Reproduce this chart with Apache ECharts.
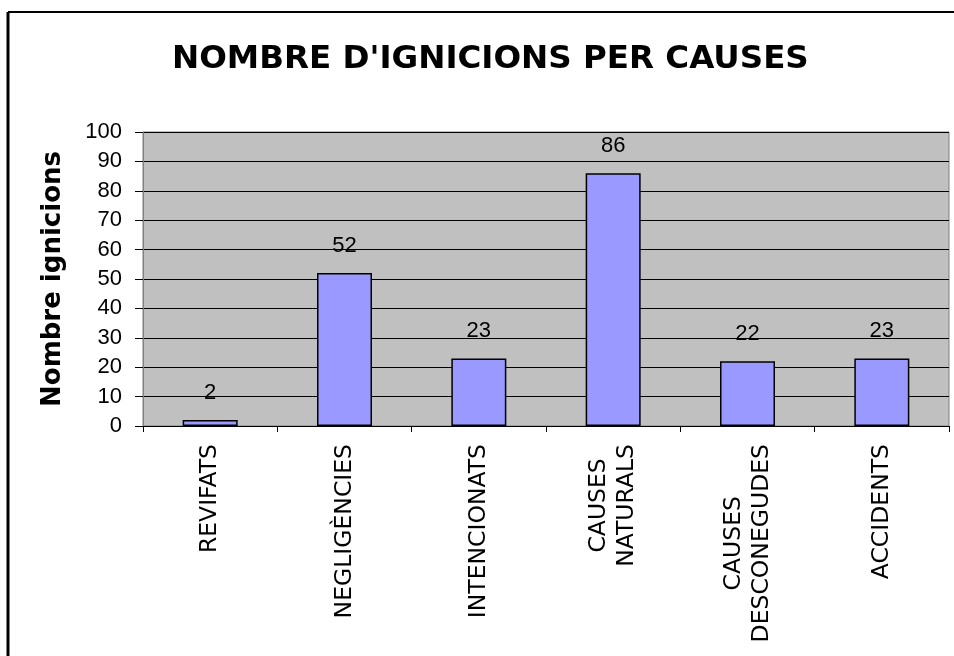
<!DOCTYPE html>
<html>
<head>
<meta charset="utf-8">
<script src="https://cdn.jsdelivr.net/npm/echarts@6/dist/echarts.min.js"></script>
<style>
  html, body { margin: 0; padding: 0; background: #fff; }
</style>
</head>
<body>
<div id="chart" style="width: 954px; height: 656px"></div>
<script>
const categories = ["REVIFATS", "NEGLIGÈNCIES", "INTENCIONATS", "CAUSES\nNATURALS", "CAUSES\nDESCONEGUDES", "ACCIDENTS"];
const ignicions = [2, 52, 23, 86, 22, 23];
const yTicks = [0, 100, 10]; // min, max, interval

const chart = echarts.init(document.getElementById("chart"));
chart.setOption({
  animation: false,
  title: {
    text: "NOMBRE D'IGNICIONS PER CAUSES",
    left: 167,
    top: 38,
    textStyle: { fontFamily: "DejaVu Sans", fontWeight: "bold", fontSize: 32.5, color: "#000" },
  },
  graphic: [
    { type: "line", shape: { x1: 8, y1: 12, x2: 8, y2: 656 }, style: { stroke: "#000", lineWidth: 3 } },
    { type: "line", shape: { x1: 8, y1: 12, x2: 954, y2: 12 }, style: { stroke: "#000", lineWidth: 2 } },
  ],
  grid: {
    left: 143,
    right: 5,
    top: 132,
    bottom: 230,
    show: true,
    backgroundColor: "#C0C0C0",
    borderColor: "#808080",
    borderWidth: 1,
  },
  xAxis: {
    type: "category",
    data: categories,
    axisLine: { lineStyle: { color: "#000" } },
    axisTick: { show: true, length: 6, lineStyle: { color: "#000" } },
    axisLabel: {
      rotate: 90,
      margin: 18,
      interval: 0,
      formatter: (v) => v.split("\n").map((s) => "{a|" + s + "}").join("\n"),
      rich: {
        a: { fontFamily: "DejaVu Sans", fontSize: 23.5, color: "#000", lineHeight: 28, align: "center" },
      },
    },
  },
  yAxis: {
    type: "value",
    min: yTicks[0],
    max: yTicks[1],
    interval: yTicks[2],
    name: "Nombre ignicions",
    nameLocation: "middle",
    nameGap: 77,
    nameTextStyle: { fontFamily: "DejaVu Sans", fontWeight: "bold", fontSize: 26, color: "#000" },
    axisLine: { show: true, lineStyle: { color: "#808080" } },
    axisTick: { show: true, length: 8, lineStyle: { color: "#000" } },
    axisLabel: { margin: 21, fontFamily: "Liberation Sans", fontSize: 22, color: "#000" },
    splitLine: { lineStyle: { color: "#000", width: 1 } },
  },
  series: [
    {
      type: "bar",
      data: ignicions,
      barWidth: 55,
      itemStyle: { color: "#9999FF", borderColor: "#000", borderWidth: 1.5 },
      label: {
        show: true,
        position: "top",
        distance: 16,
        fontFamily: "Liberation Sans",
        fontSize: 22,
        color: "#000",
      },
    },
  ],
});
</script>
</body>
</html>
